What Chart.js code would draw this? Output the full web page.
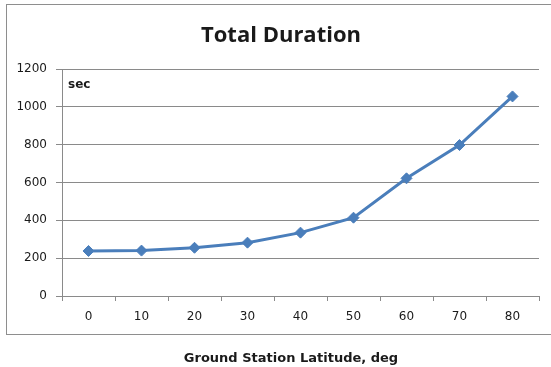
<!DOCTYPE html>
<html>
<head>
<meta charset="utf-8">
<script src="https://cdn.jsdelivr.net/npm/chart.js@4/dist/chart.umd.min.js"></script>
<style>
  html, body { margin: 0; padding: 0; background: #ffffff; }
  #wrap { position: relative; width: 551px; height: 367px; }
  canvas { display: block; }
</style>
</head>
<body>
<div id="wrap"><canvas id="chart" width="551" height="367"></canvas></div>
<script>
// Ground station latitude (deg) and total pass duration (sec)
const latitudes = ['0', '10', '20', '30', '40', '50', '60', '70', '80'];
const durations = [238, 240, 255, 282, 335, 414, 622, 798, 1055];
const yTicks = [0, 200, 400, 600, 800, 1000, 1200];

const chartTitle = 'Total Duration';
const unitLabel = 'sec';
const xAxisTitle = 'Ground Station Latitude, deg';

const GRID = '#8a8a8a';
const LINE = '#4a7ebb';
const TEXT = '#1a1a1a';

// Frame, title and axis captions drawn around the plot area
const decorations = {
  id: 'decorations',
  afterDraw(chart) {
    const ctx = chart.ctx;
    const area = chart.chartArea;
    ctx.save();
    ctx.strokeStyle = '#8e8e8e';
    ctx.lineWidth = 1;
    ctx.strokeRect(6.5, 4.5, 560, 330);

    ctx.fillStyle = TEXT;
    ctx.textAlign = 'center';
    ctx.textBaseline = 'alphabetic';
    ctx.font = 'bold 22px "Open Sans"';
    ctx.fillText(chartTitle, 281, 42);

    ctx.font = 'bold 13px "DejaVu Sans"';
    ctx.fillText(xAxisTitle, 291, 362);

    ctx.textAlign = 'left';
    ctx.font = 'bold 12px "DejaVu Sans"';
    ctx.fillText(unitLabel, area.left + 6, 88);
    ctx.restore();
  }
};

new Chart(document.getElementById('chart'), {
  type: 'line',
  data: {
    labels: latitudes,
    datasets: [{
      data: durations,
      borderColor: LINE,
      backgroundColor: LINE,
      borderWidth: 3,
      tension: 0,
      pointStyle: 'rectRot',
      pointRadius: 5.5,
      pointBorderWidth: 1,
      pointBackgroundColor: LINE,
      pointBorderColor: LINE
    }]
  },
  options: {
    responsive: false,
    animation: false,
    devicePixelRatio: 1,
    layout: { padding: { top: 69, right: 12, bottom: 41, left: 0 } },
    plugins: {
      legend: { display: false },
      title: { display: false },
      tooltip: { enabled: false }
    },
    scales: {
      x: {
        type: 'category',
        offset: true,
        grid: {
          offset: true,
          drawOnChartArea: false,
          drawTicks: true,
          tickLength: 5,
          color: GRID
        },
        border: { display: true, color: GRID, width: 1 },
        ticks: {
          color: TEXT,
          font: { family: '"DejaVu Sans"', size: 12 },
          padding: 9,
          maxRotation: 0
        },
        afterFit(scale) { scale.height = 30; }
      },
      y: {
        min: 0,
        max: 1200,
        afterBuildTicks(scale) { scale.ticks = yTicks.map(v => ({ value: v })); },
        grid: {
          color: GRID,
          drawTicks: true,
          tickLength: 6
        },
        border: { display: true, color: GRID, width: 1 },
        ticks: {
          color: TEXT,
          font: { family: '"DejaVu Sans"', size: 12 },
          padding: 9,
          callback: (value) => String(value)
        },
        afterFit(scale) { scale.width = 62; }
      }
    }
  },
  plugins: [decorations]
});
</script>
</body>
</html>
